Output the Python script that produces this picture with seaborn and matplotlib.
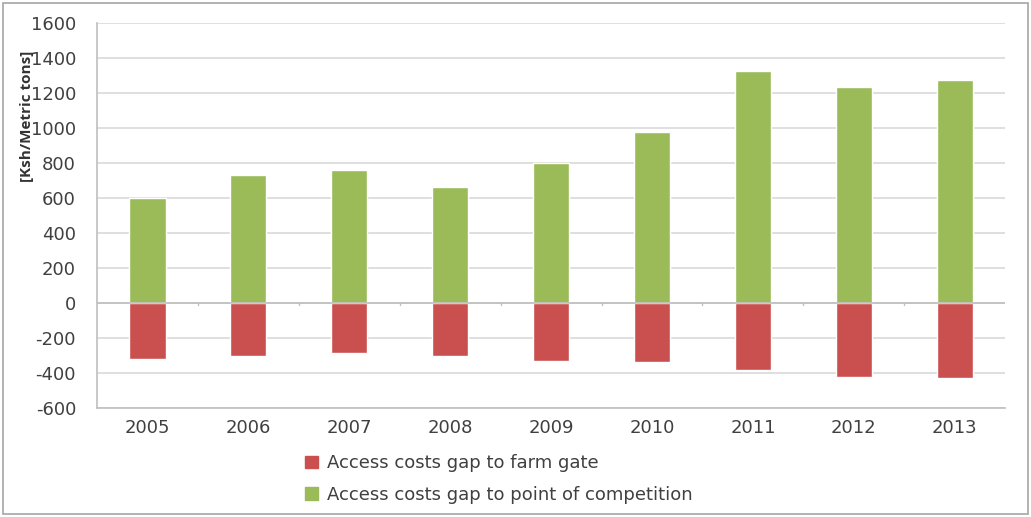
import numpy as np
import pandas as pd
import seaborn as sns
import matplotlib.pyplot as plt
from matplotlib.patches import Patch, Rectangle

years = ["2005", "2006", "2007", "2008", "2009", "2010", "2011", "2012", "2013"]
farm_gate = [-318, -305, -288, -302, -330, -335, -382, -423, -430]
competition = [600, 732, 760, 660, 800, 975, 1322, 1232, 1274]

red = "#C9504F"
green = "#9BBB59"

sns.set_style("white")
plt.rcParams["font.family"] = ["DejaVu Sans"]
plt.rcParams["axes.unicode_minus"] = False

df = pd.DataFrame({"year": years, "farm": farm_gate, "comp": competition})

fig = plt.figure(figsize=(10.31, 5.17), dpi=100)
ax = fig.add_axes([0.094, 0.211, 0.881, 0.745])

sns.barplot(data=df, x="year", y="comp", color=green, width=0.36, saturation=1, ax=ax)
sns.barplot(data=df, x="year", y="farm", color=red, width=0.36, saturation=1, ax=ax)

ax.set_ylim(-600, 1600)
ax.set_xlim(-0.5, len(years) - 0.5)
ax.set_yticks(np.arange(-600, 1601, 200))
ax.yaxis.grid(True, color="#d9d9d9", linewidth=1.2)
ax.set_axisbelow(True)
ax.axhline(0, color="#bfbfbf", linewidth=1.2, zorder=1)
for b in np.arange(0.5, len(years) - 0.5, 1):
    ax.plot([b, b], [0, -12], color="#bfbfbf", linewidth=1, zorder=1)

for s in ["top", "right"]:
    ax.spines[s].set_visible(False)
for s in ["left", "bottom"]:
    ax.spines[s].set_color("#bfbfbf")
    ax.spines[s].set_linewidth(1.2)

ax.tick_params(axis="both", length=0, labelsize=13, colors="#404040")
ax.tick_params(axis="y", pad=15)
ax.tick_params(axis="x", pad=8)
ax.set_xlabel("")
ax.set_ylabel("")
fig.text(0.026, 0.775, "[Ksh/Metric tons]", rotation=90, ha="center", va="center",
         fontsize=11, fontweight="bold", color="#333333", family="Open Sans")

handles = [Patch(color=red, label="Access costs gap to farm gate"),
           Patch(color=green, label="Access costs gap to point of competition")]
fig.legend(handles=handles, loc="upper left", bbox_to_anchor=(0.28, 0.153), frameon=False,
           fontsize=13, handlelength=0.7, handleheight=0.7, labelspacing=0.75,
           handletextpad=0.5, labelcolor="#404040")

fig.patches.append(Rectangle((0.003, 0.005), 0.994, 0.99, transform=fig.transFigure,
                             fill=False, edgecolor="#a6a6a6", linewidth=1.2))

fig.savefig("out.png", dpi=100)
